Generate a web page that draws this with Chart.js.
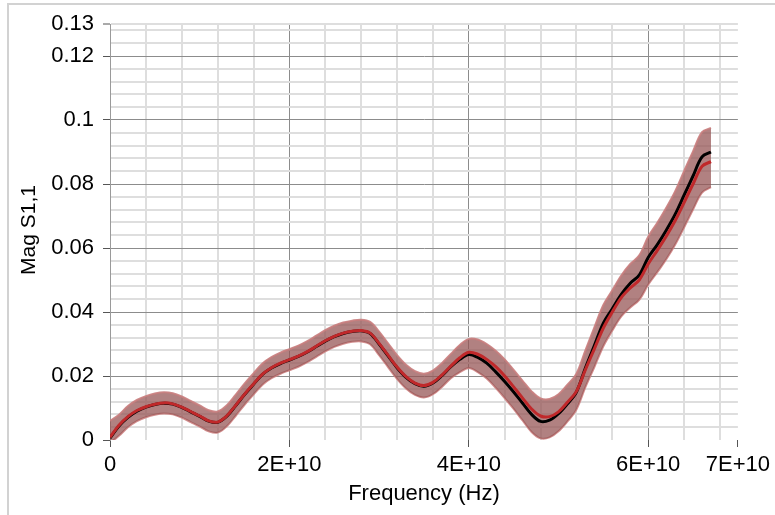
<!DOCTYPE html>
<html>
<head>
<meta charset="utf-8">
<script src="https://cdn.jsdelivr.net/npm/chart.js@4.4.1/dist/chart.umd.min.js"></script>
<style>
  html, body { margin: 0; padding: 0; background: #fff; }
  #wrap { position: relative; width: 775px; height: 515px; overflow: hidden; }
  #frame { position: absolute; left: 7px; top: 3px; width: 900px; height: 700px;
           border-top: 2px solid #d2d2d2; border-left: 2px solid #d2d2d2; pointer-events: none; }
  canvas { position: absolute; left: 0; top: 0; }
</style>
</head>
<body>
<div id="wrap">
  <canvas id="myChart" width="775" height="515"></canvas>
  <div id="frame"></div>
</div>
<script>
const ctx = document.getElementById("myChart").getContext("2d");

// frequency in GHz (1E+9 Hz steps)
const freqGHz = [
  0, 1, 2, 3, 4, 5, 6, 7, 8, 9,
  10, 11, 12, 13, 14, 15, 16, 17, 18, 19,
  20, 21, 22, 23, 24, 25, 26, 27, 28, 29,
  30, 31, 32, 33, 34, 35, 36, 37, 38, 39,
  40, 41, 42, 43, 44, 45, 46, 47, 48, 49,
  50, 51, 52, 53, 54, 55, 56, 57, 58, 59,
  60, 61, 62, 63, 64, 65, 66, 67
];

const blackMag = [
  0.0006, 0.0044, 0.0071, 0.0090, 0.0103, 0.0111, 0.0115, 0.0112, 0.0102, 0.0088,
  0.0074, 0.0059, 0.0055, 0.0074, 0.0107, 0.0142, 0.0174, 0.0205, 0.0225, 0.0239,
  0.0250, 0.0261, 0.0275, 0.0292, 0.0309, 0.0323, 0.0333, 0.0339, 0.0341, 0.0333,
  0.0300, 0.0263, 0.0226, 0.0196, 0.0176, 0.0168, 0.0178, 0.0201, 0.0229, 0.0252,
  0.0267, 0.0258, 0.0240, 0.0213, 0.0183, 0.0150, 0.0115, 0.0080, 0.0058, 0.0062,
  0.0082, 0.0113, 0.0150, 0.0225, 0.0295, 0.0365, 0.0410, 0.0455, 0.0490, 0.0515,
  0.0570, 0.0610, 0.0655, 0.0705, 0.0765, 0.0825, 0.0885, 0.0900
];

const redMag = [
  0.0008, 0.0046, 0.0073, 0.0092, 0.0104, 0.0112, 0.0116, 0.0113, 0.0103, 0.0089,
  0.0075, 0.0060, 0.0056, 0.0075, 0.0108, 0.0143, 0.0175, 0.0206, 0.0226, 0.0240,
  0.0251, 0.0262, 0.0276, 0.0293, 0.0310, 0.0324, 0.0334, 0.0340, 0.0342, 0.0334,
  0.0302, 0.0265, 0.0228, 0.0198, 0.0178, 0.0170, 0.0180, 0.0203, 0.0231, 0.0257,
  0.0274, 0.0268, 0.0252, 0.0229, 0.0200, 0.0166, 0.0131, 0.0097, 0.0075, 0.0073,
  0.0088, 0.0118, 0.0152, 0.0220, 0.0285, 0.0350, 0.0400, 0.0445, 0.0475, 0.0500,
  0.0550, 0.0592, 0.0636, 0.0685, 0.0742, 0.0800, 0.0855, 0.0870
];

const bandHigh = [
  0.0060, 0.0079, 0.0106, 0.0125, 0.0137, 0.0145, 0.0149, 0.0146, 0.0136, 0.0122,
  0.0108, 0.0093, 0.0089, 0.0108, 0.0141, 0.0176, 0.0208, 0.0239, 0.0259, 0.0273,
  0.0284, 0.0295, 0.0309, 0.0326, 0.0343, 0.0357, 0.0367, 0.0373, 0.0376, 0.0369,
  0.0339, 0.0302, 0.0265, 0.0235, 0.0215, 0.0207, 0.0217, 0.0240, 0.0269, 0.0297,
  0.0316, 0.0314, 0.0300, 0.0279, 0.0252, 0.0219, 0.0185, 0.0152, 0.0130, 0.0128,
  0.0143, 0.0173, 0.0207, 0.0280, 0.0352, 0.0422, 0.0468, 0.0514, 0.0550, 0.0577,
  0.0635, 0.0678, 0.0725, 0.0777, 0.0840, 0.0902, 0.0962, 0.0975
];

const bandLow = [
  -0.0010, 0.0013, 0.0040, 0.0059, 0.0071, 0.0079, 0.0083, 0.0080, 0.0070, 0.0056,
  0.0042, 0.0027, 0.0023, 0.0042, 0.0075, 0.0110, 0.0142, 0.0173, 0.0193, 0.0207,
  0.0218, 0.0229, 0.0243, 0.0260, 0.0277, 0.0291, 0.0301, 0.0307, 0.0308, 0.0299,
  0.0265, 0.0228, 0.0191, 0.0161, 0.0141, 0.0133, 0.0143, 0.0166, 0.0193, 0.0212,
  0.0225, 0.0212, 0.0192, 0.0163, 0.0131, 0.0097, 0.0061, 0.0025, 0.0005, 0.0008,
  0.0027, 0.0058, 0.0095, 0.0165, 0.0228, 0.0293, 0.0342, 0.0386, 0.0414, 0.0438,
  0.0485, 0.0524, 0.0564, 0.0610, 0.0664, 0.0720, 0.0773, 0.0790
];

const yMajorTicks = [0, 0.02, 0.04, 0.06, 0.08, 0.1, 0.12, 0.13];
const yTickLabels = ["0", "0.02", "0.04", "0.06", "0.08", "0.1", "0.12", "0.13"];
const xMajorTicks = [0, 2e10, 4e10, 6e10, 7e10];
const xTickLabels = ["0", "2E+10", "4E+10", "6E+10", "7E+10"];

const FONT = '"Liberation Sans", Arial, sans-serif';
const MAJOR_GRID = '#8c8c8c';
const MINOR_GRID = '#dedede';

function pts(arr) {
    return freqGHz.map((f, i) => ({ x: f * 1e9, y: arr[i] }));
}

function majorIndex(list, v, eps) {
    return list.findIndex(t => Math.abs(t - v) < eps);
}

// y title drawn by hand so it can sit where the original has it
const yTitle = {
    id: 'yTitle',
    afterDraw(chart) {
        const c = chart.ctx;
        c.save();
        c.font = '21px ' + FONT;
        c.fillStyle = '#000';
        c.translate(35, 230);
        c.rotate(-Math.PI / 2);
        c.textAlign = 'center';
        c.textBaseline = 'alphabetic';
        c.fillText('Mag S1,1', 0, 0);
        c.restore();
    }
};

const data = {
    datasets: [
        {
            data: pts(redMag),
            borderColor: '#c0282a',
            borderWidth: 3,
            pointRadius: 0,
            tension: 0.35,
            fill: false
        },
        {
            data: pts(blackMag),
            borderColor: '#000',
            borderWidth: 3,
            pointRadius: 0,
            tension: 0.35,
            fill: false
        },
        {
            data: pts(bandHigh),
            borderColor: 'rgba(200,125,125,0.9)',
            borderWidth: 2,
            backgroundColor: 'rgba(150,85,85,0.74)',
            pointRadius: 0,
            tension: 0.35,
            fill: '+1',
            clip: 0
        },
        {
            data: pts(bandLow),
            borderColor: 'rgba(205,130,130,0.9)',
            borderWidth: 2,
            pointRadius: 0,
            tension: 0.35,
            fill: false,
            clip: 0
        }
    ]
};

const config = {
    type: 'line',
    data: data,
    plugins: [yTitle],
    options: {
        responsive: false,
        animation: false,
        devicePixelRatio: 1,
        layout: { padding: { top: 24, right: 34, left: 0, bottom: 0 } },
        plugins: {
            legend: { display: false },
            tooltip: { enabled: false }
        },
        scales: {
            x: {
                type: 'linear',
                min: 0,
                max: 7e10,
                afterFit: (axis) => { axis.height = 75; },
                afterBuildTicks: (axis) => {
                    const t = [];
                    for (let k = 0; k <= 17; k++) t.push({ value: k * 4e9 });
                    t.push({ value: 7e10 });
                    axis.ticks = t;
                },
                border: { display: false },
                grid: {
                    drawTicks: true,
                    tickLength: 7,
                    color: (c) => {
                        const v = c.tick ? c.tick.value : 0;
                        if (v === 0 || v === 7e10) return 'rgba(0,0,0,0)';
                        return majorIndex(xMajorTicks, v, 1) >= 0 ? MAJOR_GRID : MINOR_GRID;
                    },
                    lineWidth: (c) => {
                        const v = c.tick ? c.tick.value : 0;
                        return majorIndex(xMajorTicks, v, 1) >= 0 ? 1 : 2;
                    },
                    tickColor: (c) => {
                        const v = c.tick ? c.tick.value : 0;
                        return majorIndex(xMajorTicks, v, 1) >= 0 ? '#555' : 'rgba(0,0,0,0)';
                    },
                    tickWidth: 1
                },
                ticks: {
                    autoSkip: false,
                    maxRotation: 0,
                    padding: 5,
                    color: '#000',
                    font: { family: FONT, size: 22 },
                    callback: function(value) {
                        const i = majorIndex(xMajorTicks, value, 1);
                        return i >= 0 ? xTickLabels[i] : '';
                    }
                },
                title: {
                    display: true,
                    text: 'Frequency (Hz)',
                    color: '#000',
                    font: { family: FONT, size: 22 },
                    padding: { top: 0, bottom: 8 }
                }
            },
            y: {
                min: 0,
                max: 0.13,
                afterFit: (axis) => { axis.width = 110; },
                afterBuildTicks: (axis) => {
                    const t = [];
                    for (let k = 0; k <= 32; k++) t.push({ value: Math.round(k * 4) / 1000 });
                    t.push({ value: 0.13 });
                    axis.ticks = t;
                },
                border: { display: true, color: '#9a9a9a', width: 1 },
                grid: {
                    drawTicks: true,
                    tickLength: 7,
                    color: (c) => {
                        const v = c.tick ? c.tick.value : 0;
                        if (v === 0) return 'rgba(0,0,0,0)';
                        if (Math.abs(v - 0.13) < 1e-9) return MINOR_GRID;
                        return majorIndex(yMajorTicks, v, 1e-9) >= 0 ? MAJOR_GRID : MINOR_GRID;
                    },
                    lineWidth: (c) => {
                        const v = c.tick ? c.tick.value : 0;
                        if (Math.abs(v - 0.13) < 1e-9) return 2;
                        return majorIndex(yMajorTicks, v, 1e-9) >= 0 ? 1 : 2;
                    },
                    tickColor: (c) => {
                        const v = c.tick ? c.tick.value : 0;
                        return majorIndex(yMajorTicks, v, 1e-9) >= 0 ? '#555' : 'rgba(0,0,0,0)';
                    },
                    tickWidth: 1
                },
                ticks: {
                    autoSkip: false,
                    padding: 9,
                    color: '#000',
                    font: { family: FONT, size: 22 },
                    callback: function(value) {
                        const i = majorIndex(yMajorTicks, value, 1e-9);
                        return i >= 0 ? yTickLabels[i] : '';
                    }
                }
            }
        }
    }
};

const myChart = new Chart(ctx, config);
</script>
</body>
</html>
